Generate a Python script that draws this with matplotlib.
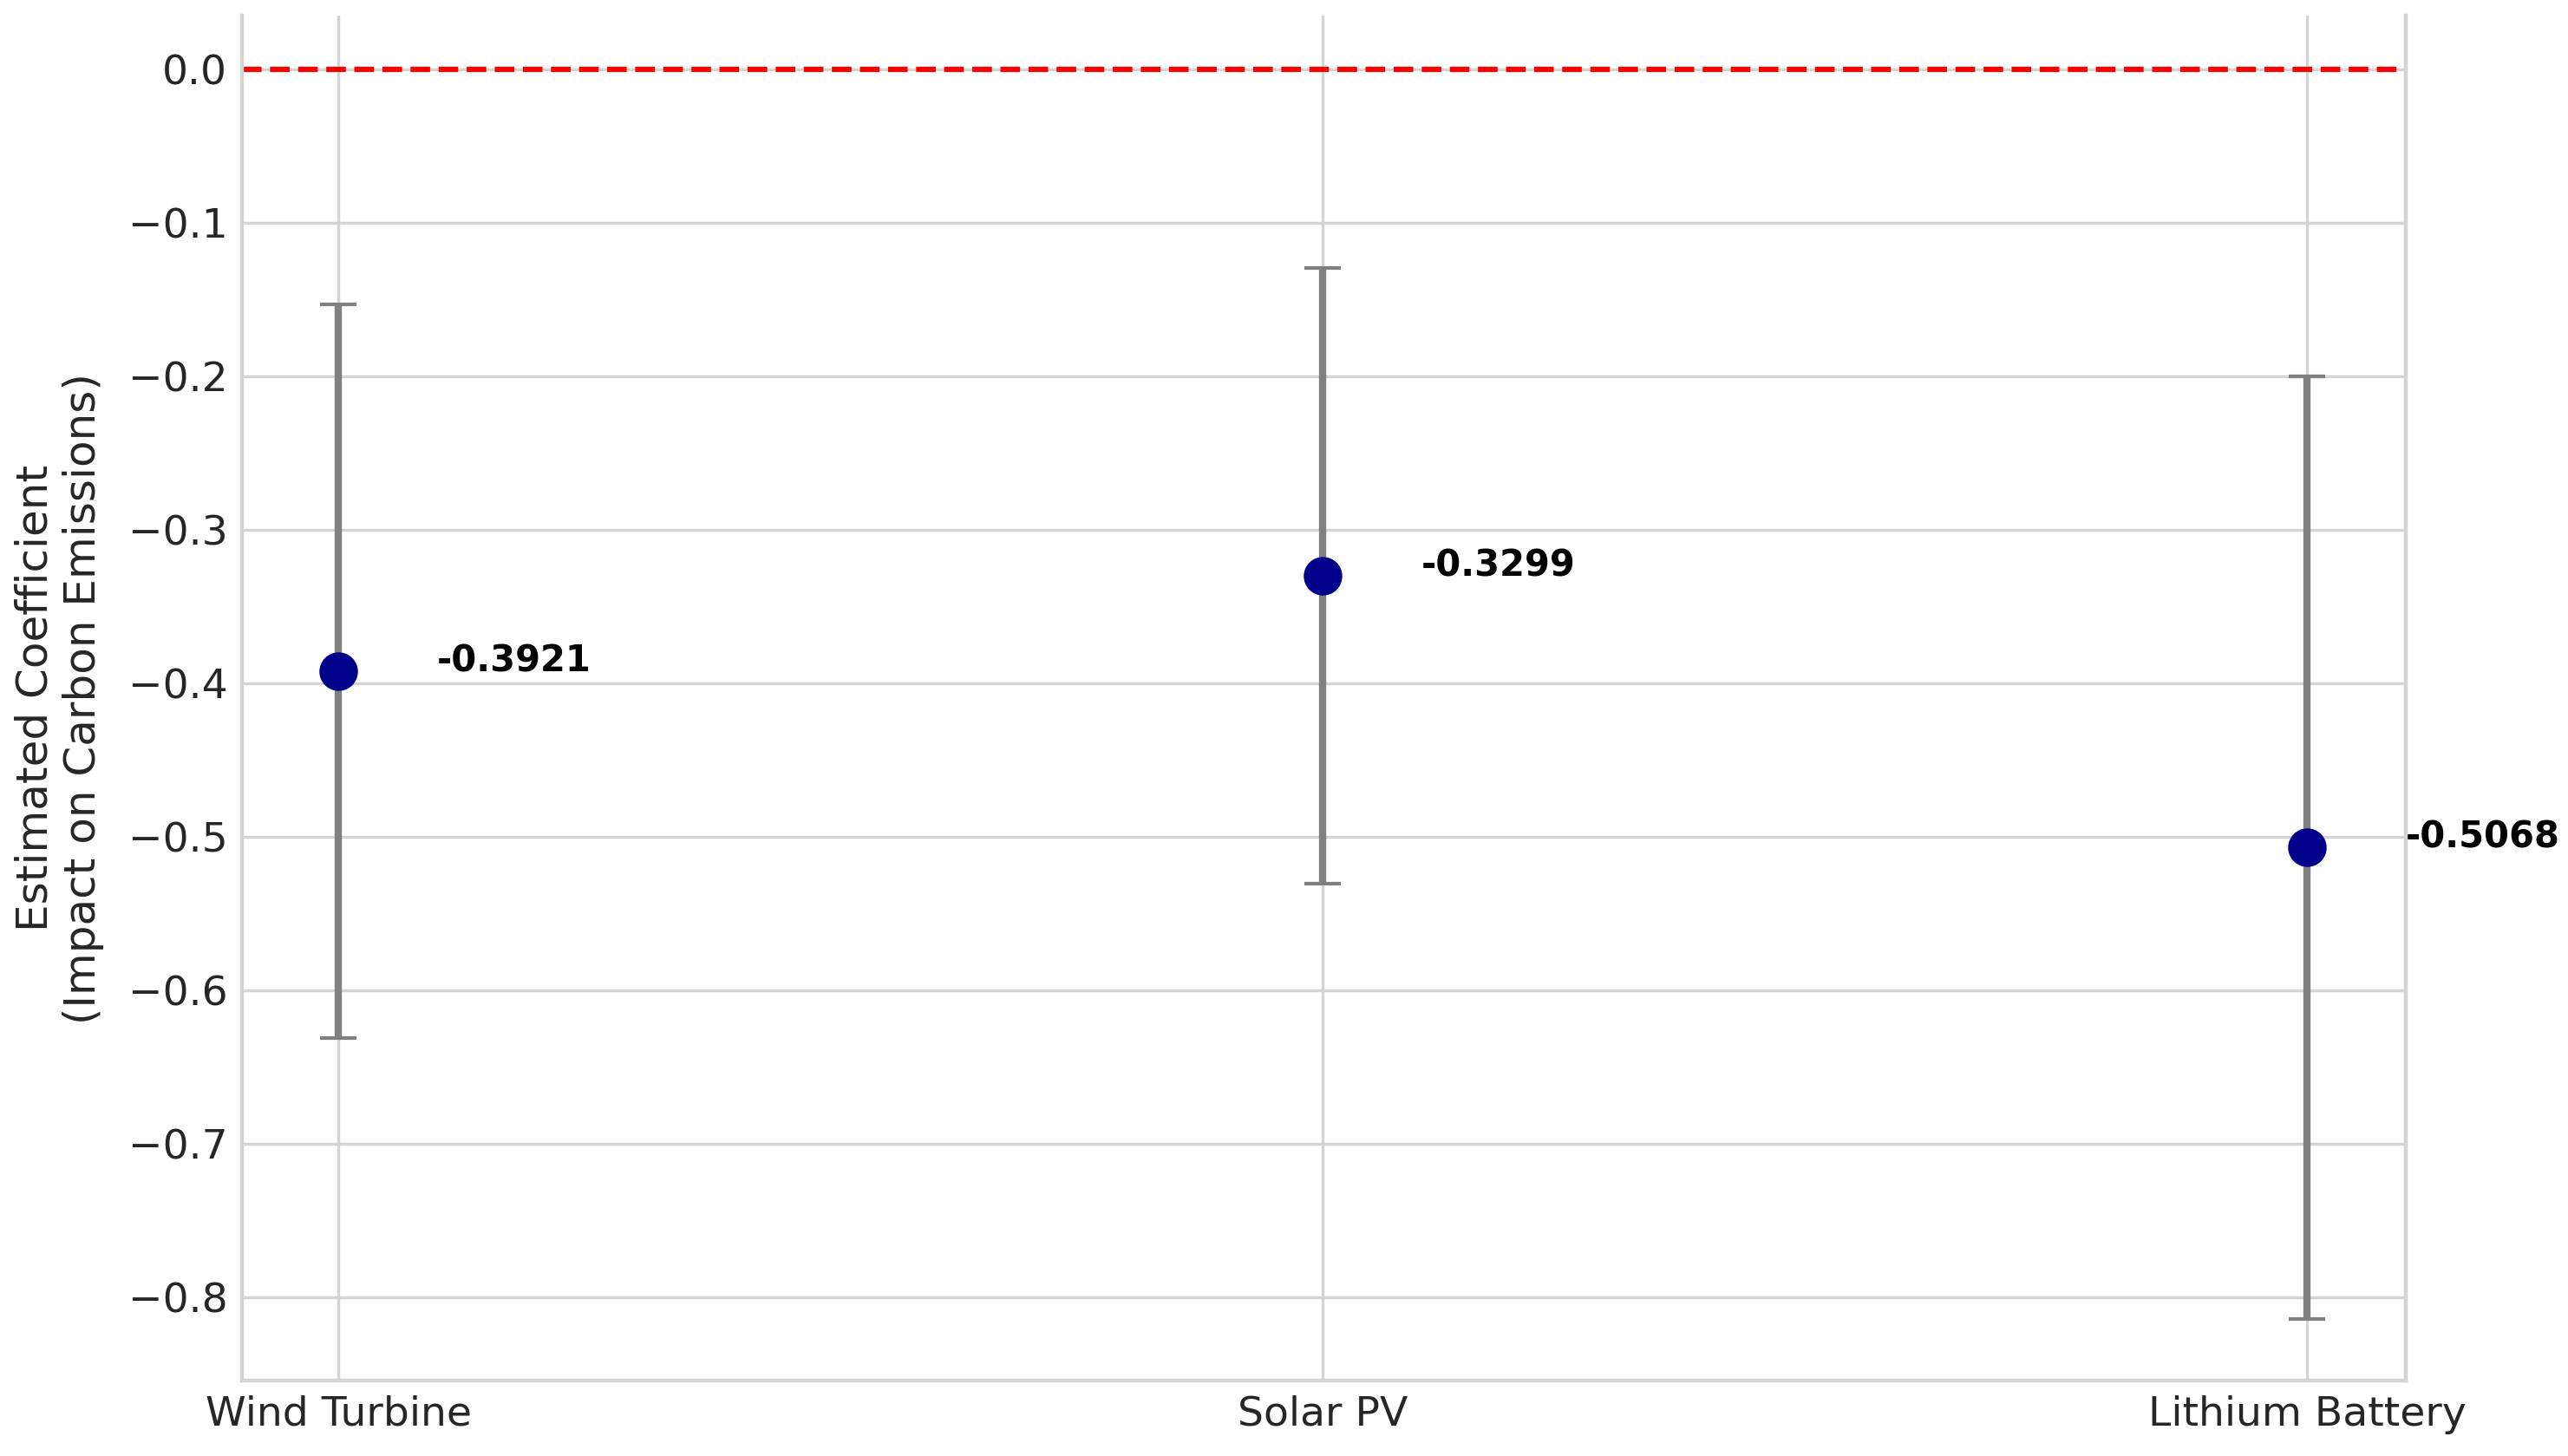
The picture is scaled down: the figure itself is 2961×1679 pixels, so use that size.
import matplotlib
matplotlib.use("Agg")
import matplotlib.pyplot as plt
import numpy as np

# ── Data ──────────────────────────────────────────────────────────────────────
technologies = ["Wind Turbine", "Solar PV", "Lithium Battery"]
coefficients = [-0.3921, -0.3299, -0.5068]
ci_half_width = [0.239, 0.2005, 0.307]
y_ticks = [0.0, -0.1, -0.2, -0.3, -0.4, -0.5, -0.6, -0.7, -0.8]

GRID = "#d4d4d4"
TEXT = "#262626"

fig = plt.figure(figsize=(14.805, 8.395), dpi=200, facecolor="white")
ax = fig.add_axes([0.0942, 0.0518, 0.8426, 0.9372])
ax.set_facecolor("white")

x = np.arange(len(technologies))

ax.errorbar(
    x, coefficients, yerr=ci_half_width,
    fmt="o", color="#00008B", markersize=15,
    ecolor="gray", elinewidth=3, capsize=7.5, capthick=1.5,
    zorder=3,
)

ax.axhline(0, color="red", linestyle="--", linewidth=2.2, zorder=2)

for xi, coef in zip(x, coefficients):
    ax.text(xi + 0.1, coef, f"{coef:.4f}", fontsize=15,
            fontweight="bold", color="black")

ax.set_xticks(x)
ax.set_xticklabels(technologies)
ax.set_yticks(y_ticks)
ax.set_xlim(-0.098, 2.1)
ax.set_ylim(-0.854, 0.035)

ax.set_ylabel("Estimated Coefficient\n(Impact on Carbon Emissions)",
              fontsize=18, color=TEXT, labelpad=10)
ax.tick_params(axis="both", length=0, pad=6, labelsize=17, labelcolor=TEXT)

ax.grid(True, color=GRID, linewidth=1.2, zorder=0)
ax.set_axisbelow(True)
for name, spine in ax.spines.items():
    spine.set_color(GRID)
    spine.set_linewidth(1.6)
ax.spines["top"].set_visible(False)

fig.savefig("out.png", dpi=200, facecolor="white")
